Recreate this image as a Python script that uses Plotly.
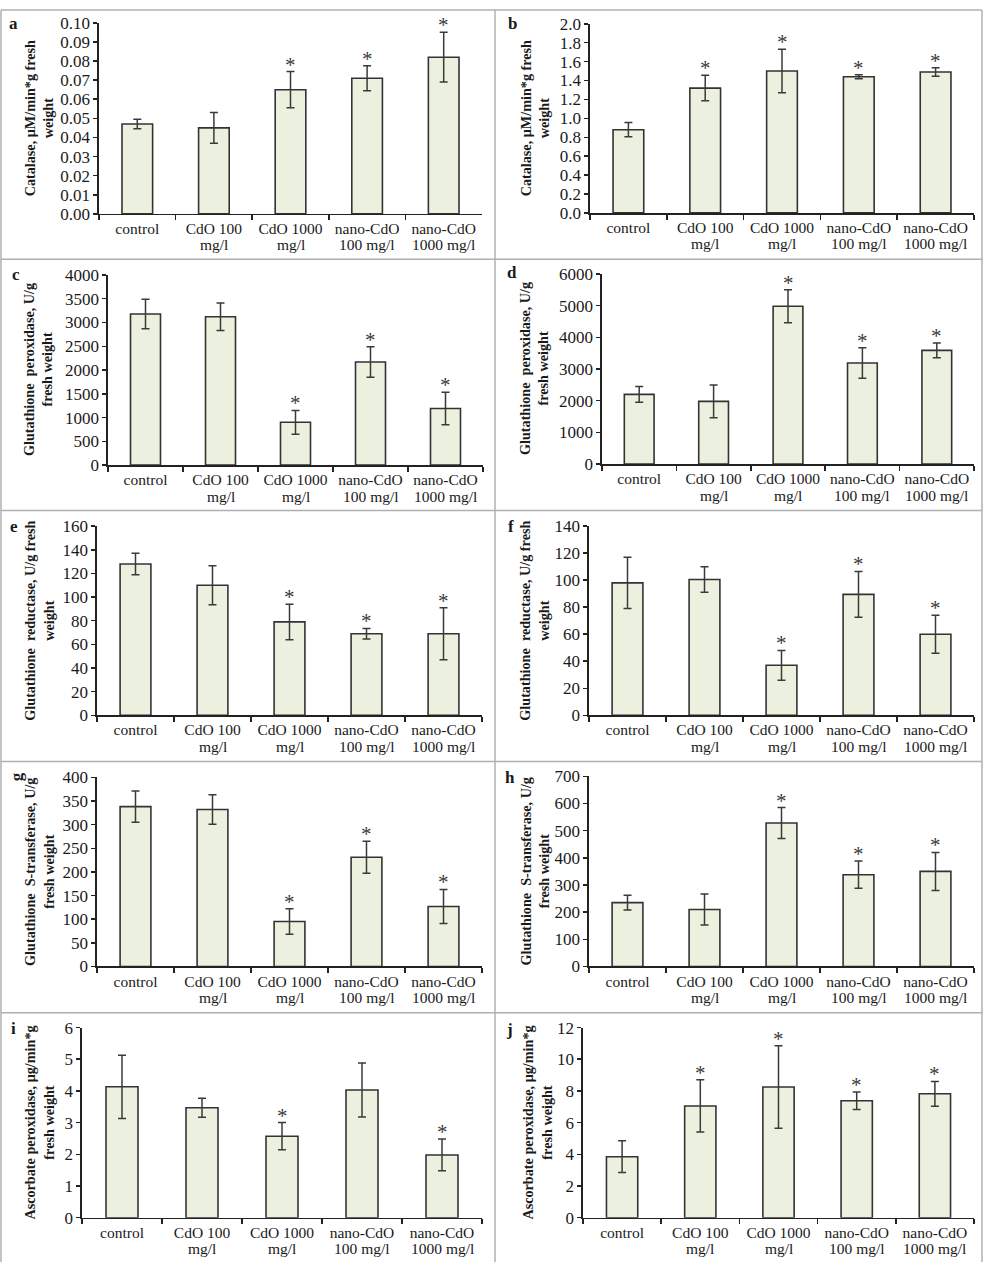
import plotly.graph_objects as go

# ---------------- data ----------------
categories = ["control", "CdO 100<br>mg/l", "CdO 1000<br>mg/l",
              "nano-CdO<br>100 mg/l", "nano-CdO<br>1000 mg/l"]

cat_a = [0.047, 0.045, 0.065, 0.071, 0.082]
cat_a_err = [0.0025, 0.008, 0.0095, 0.0065, 0.013]
cat_a_sig = [False, False, True, True, True]

cat_b = [0.88, 1.32, 1.50, 1.44, 1.49]
cat_b_err = [0.075, 0.135, 0.23, 0.02, 0.045]
cat_b_sig = [False, True, True, True, True]

gpx_c = [3180, 3120, 900, 2170, 1190]
gpx_c_err = [310, 290, 250, 320, 340]
gpx_c_sig = [False, False, True, True, True]

gpx_d = [2200, 1980, 4980, 3190, 3590]
gpx_d_err = [250, 520, 520, 480, 230]
gpx_d_sig = [False, False, True, True, True]

gr_e = [128, 110, 79, 69, 69]
gr_e_err = [9, 16.5, 15, 4.5, 22]
gr_e_sig = [False, False, True, True, True]

gr_f = [98, 100.5, 37, 89.5, 60]
gr_f_err = [19, 9.5, 11, 17, 14]
gr_f_sig = [False, False, True, True, True]

gst_g = [338, 332, 95, 231, 127]
gst_g_err = [33, 31, 27, 34, 36]
gst_g_sig = [False, False, True, True, True]

gst_h = [235, 210, 528, 338, 350]
gst_h_err = [27, 57, 57, 50, 70]
gst_h_sig = [False, False, True, True, True]

apx_i = [4.13, 3.47, 2.57, 4.03, 1.98]
apx_i_err = [1.0, 0.3, 0.43, 0.85, 0.5]
apx_i_sig = [False, False, True, False, True]

apx_j = [3.85, 7.05, 8.25, 7.38, 7.82]
apx_j_err = [1.0, 1.65, 2.6, 0.55, 0.78]
apx_j_sig = [False, True, True, True, True]

panel_letters = ["a", "b", "c", "d", "e", "f", "g", "h", "i", "j"]
y_titles = [
    "Catalase, μM/min*g fresh<br>weight",
    "Catalase, μM/min*g fresh<br>weight",
    "Glutathione  peroxidase, U/g<br>fresh weight",
    "Glutathione  peroxidase, U/g<br>fresh weight",
    "Glutathione  reductase, U/g fresh<br>weight",
    "Glutathione  reductase, U/g fresh<br>weight",
    "Glutathione  S-transferase, U/g<br>fresh weight",
    "Glutathione  S-transferase, U/g<br>fresh weight",
    "Ascorbate peroxidase, μg/min*g<br>fresh weight",
    "Ascorbate peroxidase, μg/min*g<br>fresh weight",
]
series = [
    (cat_a, cat_a_err, cat_a_sig), (cat_b, cat_b_err, cat_b_sig),
    (gpx_c, gpx_c_err, gpx_c_sig), (gpx_d, gpx_d_err, gpx_d_sig),
    (gr_e, gr_e_err, gr_e_sig), (gr_f, gr_f_err, gr_f_sig),
    (gst_g, gst_g_err, gst_g_sig), (gst_h, gst_h_err, gst_h_sig),
    (apx_i, apx_i_err, apx_i_sig), (apx_j, apx_j_err, apx_j_sig),
]
y_max = [0.10, 2.0, 4000, 6000, 160, 140, 400, 700, 6, 12]
y_dtick = [0.01, 0.2, 500, 1000, 20, 20, 50, 100, 1, 2]
y_fmt = [".2f", ".1f", "d", "d", "d", "d", "d", "d", "d", "d"]

# ---------------- layout (pixels) ----------------
W, H = 984, 1272
# x0 (y-axis), x1 (end), ytop, ybottom, title x, letter x, letter y
geom = [
    (99, 482, 14, 208, 39, 13, 15),
    (590, 974, 15, 207, 535, 512, 15),
    (108, 483, 270, 463, 38, 16, 270),
    (602, 974, 269, 462, 534, 512, 268),
    (97, 482, 525, 717, 39, 14, 525),
    (589, 974, 525, 717, 534, 511, 525),
    (97, 482, 780, 972, 39, 16, 780),
    (589, 974, 779, 972, 535, 510, 780),
    (82, 482, 1034, 1227, 39, 13, 1035),
    (583, 974, 1034, 1227, 537, 509, 1036),
]

FONT = "Liberation Serif, Times New Roman, serif"
BAR_FILL = "#EBF1DE"
DARK = "#333333"
TXT = "#1a1a1a"
CAT_SIZE = 15.5
LINE_GAP = 15  # px between the two lines of a category label

def px(x):
    return x / W

def py(y):
    return 1 - y / H

fig = go.Figure()
annotations = []
layout_axes = {}

first_lines = [c.split("<br>")[0] for c in categories]
second_lines = [c.split("<br>")[1] if "<br>" in c else "" for c in categories]

for i, ((vals, errs, sig), (x0, x1, yt, yb, tx, lx, ly)) in enumerate(zip(series, geom)):
    n = i + 1
    xa = "x" if n == 1 else f"x{n}"
    ya = "y" if n == 1 else f"y{n}"
    fig.add_trace(go.Bar(
        x=categories, y=vals, xaxis=xa, yaxis=ya, width=0.4,
        marker=dict(color=BAR_FILL, line=dict(color=DARK, width=1.6)),
        error_y=dict(type="data", array=errs, visible=True,
                     color="#3a3a3a", thickness=1.5, width=4),
        showlegend=False, hoverinfo="skip",
    ))
    # significance stars
    for c, v, e, s in zip(categories, vals, errs, sig):
        if s:
            annotations.append(dict(
                x=c, y=v + e, xref=xa, yref=ya, text="*", showarrow=False,
                xanchor="center", yanchor="middle", yshift=7,
                font=dict(family=FONT, size=21, color="#3a3a3a"),
            ))
    # second lines of category labels
    for c, s2 in zip(categories, second_lines):
        if s2:
            annotations.append(dict(
                x=c, y=py(yb), xref=xa, yref="paper", text=s2, showarrow=False,
                xanchor="center", yanchor="middle", yshift=-(16 + LINE_GAP),
                font=dict(family=FONT, size=CAT_SIZE, color=TXT),
            ))
    xkey = "xaxis" if n == 1 else f"xaxis{n}"
    ykey = "yaxis" if n == 1 else f"yaxis{n}"
    layout_axes[xkey] = dict(
        domain=[px(x0), px(x1)], anchor=ya, type="category",
        categoryorder="array", categoryarray=categories,
        tickvals=categories, ticktext=first_lines,
        range=[-0.5, 4.5], showline=True, linecolor="#222222", linewidth=1.6,
        ticks="outside", tickson="boundaries", ticklen=5, tickwidth=1.5,
        tickcolor="#222222", showgrid=False, zeroline=False,
        tickfont=dict(family=FONT, size=CAT_SIZE, color=TXT),
        fixedrange=True,
    )
    layout_axes[ykey] = dict(
        domain=[py(yb), py(yt)], anchor=xa, range=[0, y_max[i]],
        dtick=y_dtick[i], tick0=0, tickformat=y_fmt[i],
        showline=True, linecolor="#222222", linewidth=1.6,
        ticks="outside", ticklen=4, tickwidth=1.5, tickcolor="#222222",
        showgrid=False, zeroline=False,
        tickfont=dict(family=FONT, size=17, color=TXT),
        fixedrange=True,
    )
    annotations.append(dict(
        x=px(tx), y=py((yt + yb) / 2), xref="paper", yref="paper",
        text="<b>" + y_titles[i] + "</b>", textangle=-90, showarrow=False,
        xanchor="center", yanchor="middle",
        font=dict(family=FONT, size=14.2, color=TXT),
    ))
    annotations.append(dict(
        x=px(lx), y=py(ly), xref="paper", yref="paper",
        text="<b>" + panel_letters[i] + "</b>", showarrow=False,
        xanchor="center", yanchor="middle",
        textangle=-90 if panel_letters[i] == "g" else 0,
        font=dict(family=FONT, size=17, color=TXT),
    ))

# panel borders
shapes = []
BORDER = "#b0b0b0"
for yline in [1, 254, 509, 764, 1019]:
    shapes.append(dict(type="line", xref="paper", yref="paper",
                       x0=px(1), x1=px(982), y0=py(yline), y1=py(yline),
                       line=dict(color=BORDER, width=1.5)))
for xline in [1, 495, 982]:
    shapes.append(dict(type="line", xref="paper", yref="paper",
                       x0=px(xline), x1=px(xline), y0=py(1), y1=py(1272),
                       line=dict(color=BORDER, width=1.5)))

fig.update_layout(
    width=W, height=H, margin=dict(l=0, r=0, t=0, b=0),
    paper_bgcolor="white", plot_bgcolor="white",
    annotations=annotations, shapes=shapes,
    font=dict(family=FONT),
    **layout_axes,
)

POST = (
    "document.documentElement.style.margin='0';"
    "document.body.style.margin='0';"
    "document.body.style.overflow='hidden';"
)

fig.write_html("out.html", config={"displayModeBar": False, "staticPlot": True},
               post_script=POST)
